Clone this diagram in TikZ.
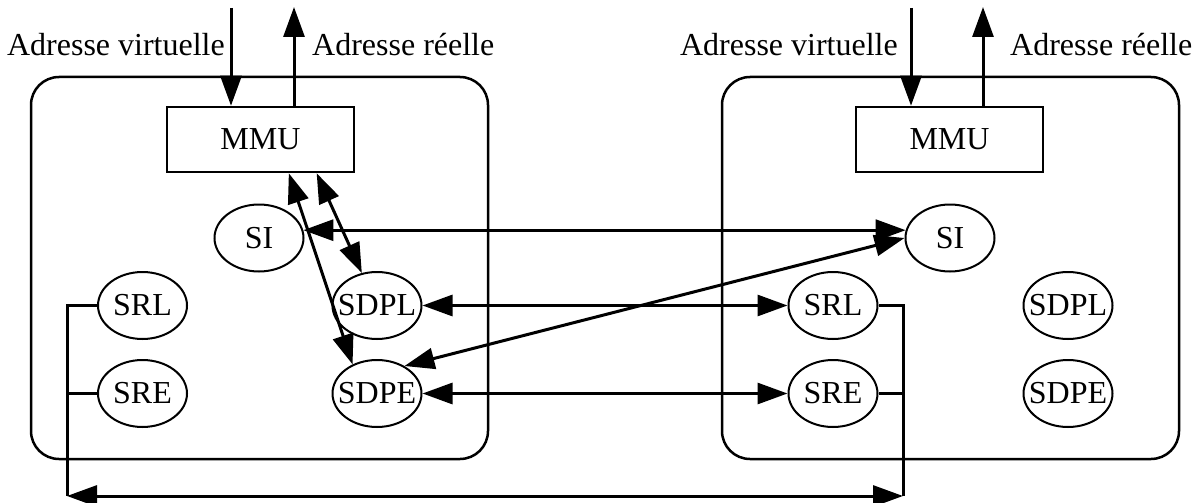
\documentclass[tikz,border=0pt]{standalone}
\usepackage{fontspec}
\setmainfont{Liberation Serif}
\usetikzlibrary{arrows.meta,shapes.geometric,calc}
\begin{document}
\begin{tikzpicture}[x=1pt,y=-1pt,
  every node/.style={font=\fontsize{32}{38}\selectfont},
  frame/.style={draw,line width=2.5pt,rounded corners=28pt},
  mmubox/.style={draw,line width=2.5pt,minimum width=187pt,minimum height=65pt,inner sep=0pt},
  proc/.style={draw,ellipse,line width=2pt,minimum width=89pt,minimum height=67pt,inner sep=0pt},
  lbl/.style={inner sep=0pt},
  link/.style={line width=3pt},
  tipend/.style={-{Triangle[length=30pt,width=21pt]}},
  both/.style={{Triangle[length=30pt,width=21pt]}-{Triangle[length=30pt,width=21pt]}}
]
\useasboundingbox (0,0) rectangle (1200,503);

% frames
\draw[frame] (31,77) rectangle (488,459);
\draw[frame] (722,77) rectangle (1179,459);

% left machine
\node[mmubox] (lMMU) at (260.5,139.5) {MMU};
\node[proc] (lSI) at (259,238) {\makebox[0pt][c]{SI}};
\node[proc] (lSRL) at (142.5,305.5) {\makebox[0pt][c]{SRL}};
\node[proc] (lSRE) at (142.5,393.5) {\makebox[0pt][c]{SRE}};
\node[proc] (lSDPL) at (377,305.5) {\makebox[0pt][c]{SDPL}};
\node[proc] (lSDPE) at (377,393.5) {\makebox[0pt][c]{SDPE}};

% right machine
\node[mmubox] (rMMU) at (949.5,139.5) {MMU};
\node[proc] (rSI) at (950,238) {\makebox[0pt][c]{SI}};
\node[proc] (rSRL) at (833,305.5) {\makebox[0pt][c]{SRL}};
\node[proc] (rSRE) at (833,393.5) {\makebox[0pt][c]{SRE}};
\node[proc] (rSDPL) at (1068,305.5) {\makebox[0pt][c]{SDPL}};
\node[proc] (rSDPE) at (1068,393.5) {\makebox[0pt][c]{SDPE}};

% labels
\node[lbl,anchor=base east] (lvl) at (225,56) {Adresse virtuelle};
\node[lbl,anchor=base west] (lrl) at (312,56) {Adresse réelle};
\node[lbl,anchor=base east] (rvl) at (898,56) {Adresse virtuelle};
\node[lbl,anchor=base west] (rrl) at (1010,56) {Adresse réelle};

% address arrows
\coordinate (lvin) at (231,8);
\coordinate (lrout) at (294,7);
\coordinate (rvin) at (911,8);
\coordinate (rrout) at (983,7);
\draw[link,tipend] (lvin) -- (lvin |- lMMU.north);
\draw[link,tipend] (lrout |- lMMU.north) -- (lrout);
\draw[link,tipend] (rvin) -- (rvin |- rMMU.north);
\draw[link,tipend] (rrout |- rMMU.north) -- (rrout);

% internal / cross links
\draw[link,both] (lMMU.-50) -- (lSDPE.130);
\draw[link,both] (lMMU.-31) -- (lSDPL.115);
\draw[link,both] (lSI.10) -- (rSI.170);
\draw[link,both] (lSDPE.45) -- (rSI.west);
\draw[link,both] (lSDPL.east) -- (rSRL.west);
\draw[link,both] (lSDPE.east) -- (rSRE.west);

% bottom bus
\coordinate (lb) at (67,496);
\coordinate (rb) at (903,496);
\draw[link] (lSRL.west) -- (lSRL.west -| lb) -- (lb);
\draw[link] (lSRE.west) -- (lSRE.west -| lb);
\draw[link,both] (lb) -- (rb);
\draw[link] (rSRL.east) -- (rSRL.east -| rb) -- (rb);
\draw[link] (rSRE.east) -- (rSRE.east -| rb);
\end{tikzpicture}
\end{document}
